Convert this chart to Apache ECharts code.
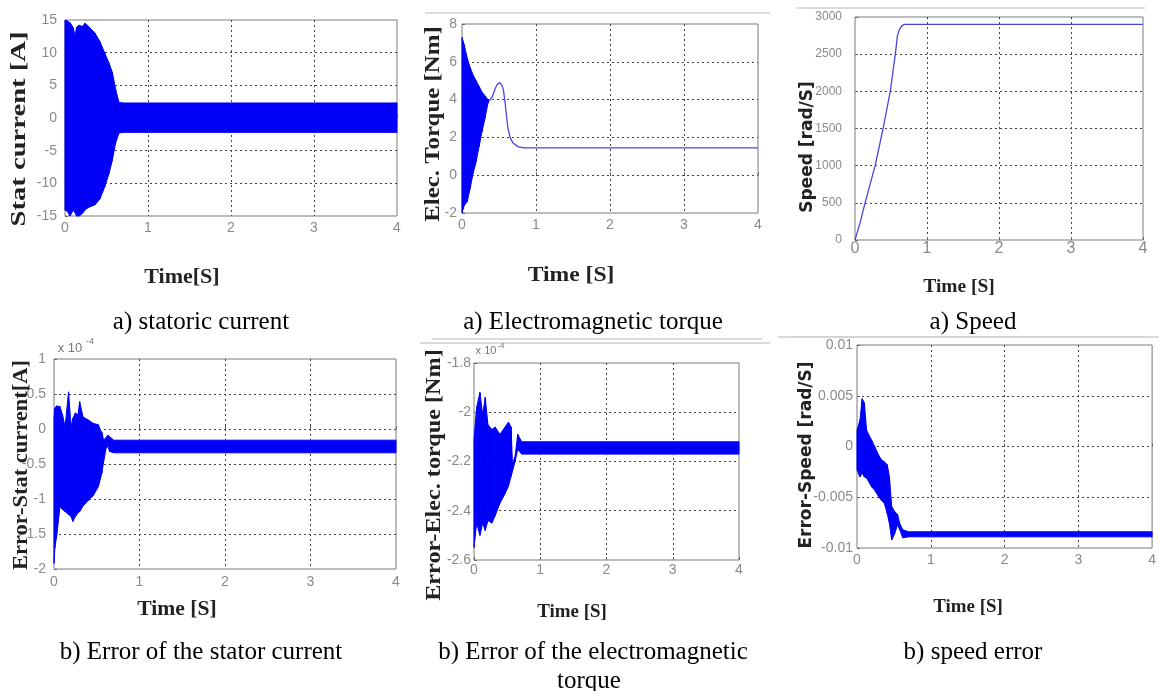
<!DOCTYPE html>
<html>
<head>
<meta charset="utf-8">
<title>Simulation results</title>
<script src="https://cdn.jsdelivr.net/npm/echarts@6/dist/echarts.min.js"></script>
<style>
html, body { margin: 0; padding: 0; background: #fff; }
#main { width: 1159px; height: 691px; }
</style>
</head>
<body>
<div id="main"></div>
<script>
// ---- data (time in s) ----

// a) statoric current [A] - envelope of the oscillation
var curT     = [0, 0.03, 0.06, 0.1, 0.12, 0.14, 0.17, 0.21, 0.24, 0.27, 0.3, 0.36, 0.42, 0.48, 0.53, 0.57, 0.61, 0.65, 0.7, 4];
var curUpper = [15, 14.8, 14.6, 13.8, 12.5, 13.9, 14.2, 14.0, 14.5, 14.2, 13.8, 13.0, 11.7, 9.9, 8.4, 7.0, 4.4, 2.4, 2.3, 2.3];
var curLower = [-14.1, -14.3, -15, -14.1, -14.5, -15, -15, -14.6, -14.1, -13.8, -13.6, -13.3, -12.4, -10.5, -8.5, -6.5, -3.8, -2.3, -2.2, -2.2];
var curTicks = [-15, -10, -5, 0, 5, 10, 15];

// a) electromagnetic torque [Nm] - oscillating start, then a single trace
var torBandT  = [0, 0.03, 0.07, 0.11, 0.15, 0.19, 0.23, 0.27, 0.31, 0.35, 0.37];
var torUpper  = [7.3, 6.9, 6.2, 5.7, 5.3, 5.0, 4.7, 4.4, 4.2, 4.0, 3.95];
var torLower  = [-2, -1.6, -1.4, -0.7, 0.1, 0.7, 1.5, 2.3, 3.0, 3.8, 3.95];
var torLineT  = [0.37, 0.41, 0.45, 0.48, 0.51, 0.54, 0.56, 0.58, 0.6, 0.62, 0.65, 0.69, 0.76, 0.85, 4];
var torLine   = [3.95, 4.15, 4.6, 4.82, 4.9, 4.75, 4.5, 3.9, 3.2, 2.5, 2.0, 1.7, 1.5, 1.45, 1.45];
var torTicks  = [-2, 0, 2, 4, 6, 8];

// a) speed [rad/S]
var spdT     = [0, 0.03, 0.07, 0.14, 0.28, 0.39, 0.49, 0.56, 0.59, 0.62, 0.65, 0.69, 0.74, 4];
var spd      = [0, 100, 230, 500, 1000, 1500, 2000, 2500, 2750, 2840, 2880, 2900, 2900, 2900];
var spdTicks = [0, 500, 1000, 1500, 2000, 2500, 3000];

// b) error of the stator current [A] (x 1e-4)
var eCurT     = [0, 0.01, 0.03, 0.07, 0.1, 0.13, 0.17, 0.2, 0.22, 0.25, 0.28, 0.3, 0.34, 0.4, 0.46, 0.52, 0.54, 0.56, 0.58, 0.61, 0.63, 0.65, 0.7, 4];
var eCurUpper = [0.15, 0.3, 0.33, 0.32, 0.2, 0.03, 0.53, 0.03, 0.15, 0.23, 0.2, 0.39, 0.17, 0.13, 0.08, 0.06, -0.01, -0.05, -0.16, -0.12, -0.09, -0.11, -0.16, -0.16];
var eCurLower = [-1.92, -1.7, -1.54, -1.11, -1.15, -1.18, -1.22, -1.25, -1.32, -1.25, -1.2, -1.18, -1.1, -1.02, -0.95, -0.82, -0.72, -0.63, -0.47, -0.27, -0.25, -0.32, -0.34, -0.34];
var eCurTicks = [-2, -1.5, -1, -0.5, 0, 0.5, 1];

// b) error of the electromagnetic torque [Nm] (x 1e-4)
var eTorT     = [0, 0.04, 0.09, 0.13, 0.17, 0.21, 0.27, 0.32, 0.39, 0.47, 0.52, 0.56, 0.58, 0.62, 0.66, 0.72, 4];
var eTorUpper = [-2.11, -1.98, -1.92, -2.01, -1.94, -2.05, -2.07, -2.06, -2.09, -2.06, -2.04, -2.06, -2.21, -2.18, -2.09, -2.12, -2.12];
var eTorLower = [-2.55, -2.45, -2.5, -2.45, -2.48, -2.44, -2.45, -2.42, -2.37, -2.33, -2.3, -2.26, -2.24, -2.2, -2.15, -2.17, -2.17];
var eTorTicks = [-2.6, -2.4, -2.2, -2, -1.8];

// b) speed error [rad/S]
var eSpdT     = [0, 0.04, 0.07, 0.1, 0.13, 0.2, 0.24, 0.29, 0.33, 0.37, 0.41, 0.44, 0.47, 0.51, 0.55, 0.58, 0.62, 0.7, 4];
var eSpdUpper = [0.0016, 0.0026, 0.0047, 0.0043, 0.0016, 0.0006, 0, -0.0008, -0.0013, -0.0015, -0.0018, -0.003, -0.0059, -0.0064, -0.0067, -0.0076, -0.0082, -0.0084, -0.0084];
var eSpdLower = [-0.0023, -0.003, -0.0026, -0.003, -0.0031, -0.004, -0.0043, -0.0049, -0.0053, -0.0056, -0.0066, -0.0076, -0.0092, -0.0086, -0.0077, -0.0082, -0.009, -0.0089, -0.0089];
var eSpdTicks = [-0.01, -0.005, 0, 0.005, 0.01];

var timeTicks = [0, 1, 2, 3, 4];

// ---- layout ----
var BLUE = '#0000f8';
var TRACE = '#4646e0';

var panels = [
    { left: 65,  top: 20,  width: 332, height: 196, xMargin: 5, yMargin: 8,  ticks: curTicks },
    { left: 462, top: 24,  width: 296, height: 189, xMargin: 5, yMargin: 5,  ticks: torTicks },
    { left: 855, top: 17,  width: 288, height: 223, xMargin: 1, yMargin: 13, ticks: spdTicks, xFont: 16, yFont: 12 },
    { left: 54,  top: 359, width: 342, height: 210, xMargin: 6, yMargin: 8,  ticks: eCurTicks },
    { left: 474, top: 363, width: 265, height: 197, xMargin: 3, yMargin: 3,  ticks: eTorTicks },
    { left: 857, top: 345, width: 298, height: 203, xMargin: 5, yMargin: 4,  ticks: eSpdTicks }
];

function step(ticks) {
    return +(ticks[1] - ticks[0]).toFixed(6);
}

function plain(v) {
    return String(+v.toFixed(6));
}

var grids = [], xAxes = [], yAxes = [];
panels.forEach(function (p, k) {
    grids.push({
        left: p.left, top: p.top, width: p.width, height: p.height,
        show: true, borderColor: '#7a7a7a', borderWidth: 1, backgroundColor: '#fff'
    });
    var grid = {
        show: true,
        showMinLine: false,
        showMaxLine: false,
        lineStyle: { color: '#444', type: [2, 3], width: 1 }
    };
    xAxes.push({
        type: 'value', gridIndex: k,
        min: timeTicks[0], max: timeTicks[timeTicks.length - 1], interval: step(timeTicks),
        axisLine: { show: false },
        axisTick: { show: true, inside: true, length: 3, lineStyle: { color: '#666' } },
        axisLabel: { color: '#8a8a8a', fontSize: p.xFont || 14, fontFamily: 'Liberation Sans', margin: p.xMargin, formatter: plain },
        splitLine: grid
    });
    yAxes.push({
        type: 'value', gridIndex: k,
        min: p.ticks[0], max: p.ticks[p.ticks.length - 1], interval: step(p.ticks),
        axisLine: { show: false },
        axisTick: { show: true, inside: true, length: 3, lineStyle: { color: '#666' } },
        axisLabel: { color: '#8a8a8a', fontSize: p.yFont || 14, fontFamily: 'Liberation Sans', margin: p.yMargin, formatter: plain },
        splitLine: grid
    });
});

// filled band between lower and upper envelope, one quad per segment
function band(k, t, up, lo) {
    var data = [];
    for (var i = 0; i < t.length - 1; i++) {
        data.push([t[i], lo[i], up[i], t[i + 1], lo[i + 1], up[i + 1]]);
    }
    return {
        type: 'custom', xAxisIndex: k, yAxisIndex: k, silent: true,
        encode: { x: [0, 3], y: [1, 2, 4, 5] },
        data: data,
        renderItem: function (params, api) {
            var a = api.coord([api.value(0), api.value(1)]);
            var b = api.coord([api.value(0), api.value(2)]);
            var c = api.coord([api.value(3), api.value(5)]);
            var d = api.coord([api.value(3), api.value(4)]);
            return {
                type: 'polygon',
                shape: { points: [a, b, c, d] },
                style: { fill: BLUE, stroke: BLUE, lineWidth: 1 }
            };
        }
    };
}

function trace(k, t, v) {
    return {
        type: 'line', xAxisIndex: k, yAxisIndex: k,
        data: t.map(function (x, i) { return [x, v[i]]; }),
        symbol: 'none', silent: true, lineStyle: { color: TRACE, width: 1.3 }
    };
}

var series = [
    band(0, curT, curUpper, curLower),
    band(1, torBandT, torUpper, torLower),
    trace(1, torLineT, torLine),
    trace(2, spdT, spd),
    band(3, eCurT, eCurUpper, eCurLower),
    band(4, eTorT, eTorUpper, eTorLower),
    band(5, eSpdT, eSpdUpper, eSpdLower)
];

// ---- texts ----
var SERIF = '"Liberation Serif", "Times New Roman", serif';
var SANS = '"DejaVu Sans", Verdana, sans-serif';

function label(x, y, text, font, color, rot, sx) {
    return {
        type: 'text', x: x, y: y, z: 100,
        rotation: rot || 0, scaleX: sx || 1,
        style: {
            text: text, font: font, fill: color,
            align: 'center', verticalAlign: 'middle',
            textAlign: 'center', textVerticalAlign: 'middle'
        }
    };
}

function rule(x1, x2, y) {
    return { type: 'line', z: 1, shape: { x1: x1, y1: y, x2: x2, y2: y }, style: { stroke: '#cfcfcf', lineWidth: 1.5 } };
}

var UP = Math.PI / 2;
var DARK = '#222';

var graphic = [
    // faint borders left over from the pasted figures
    rule(425, 770, 13), rule(797, 1145, 8), rule(432, 762, 339),
    rule(790, 1145, 337), rule(420, 770, 343), rule(778, 1159, 337),

    // x axis titles
    label(182, 278, 'Time[S]', 'bold 20px ' + SERIF, DARK, 0, 1.1),
    label(571, 276, 'Time [S]', 'bold 20px ' + SERIF, DARK, 0, 1.18),
    label(959, 287, 'Time [S]', 'bold 18px ' + SERIF, DARK, 0, 1.08),
    label(177, 610, 'Time [S]', 'bold 20px ' + SERIF, DARK, 0, 1.08),
    label(572, 612, 'Time [S]', 'bold 18px ' + SERIF, DARK, 0, 1.05),
    label(968, 607, 'Time [S]', 'bold 18px ' + SERIF, DARK, 0, 1.05),

    // y axis titles
    label(19, 129, 'Stat current [A]', 'bold 22px ' + SERIF, DARK, UP, 1.3),
    label(433, 124, 'Elec. Torque [Nm]', 'bold 22px ' + SERIF, DARK, UP, 1.13),
    label(808, 147, 'Speed [rad/S]', 'bold 17px ' + SANS, DARK, UP, 1),
    label(22, 465, 'Error-Stat current[A]', 'bold 21px ' + SERIF, DARK, UP, 1.07),
    label(434, 475, 'Error-Elec. torque [Nm]', 'bold 22px ' + SERIF, DARK, UP, 1.1),
    label(807, 455, 'Error-Speed [rad/S]', 'bold 17px ' + SANS, DARK, UP, 1),

    // exponent markers
    label(70, 348, 'x 10', '13px Liberation Sans', '#777', 0, 1),
    label(90, 342, '-4', '9px Liberation Sans', '#777', 0, 1),
    label(486, 351, 'x 10', '11px Liberation Sans', '#777', 0, 1),
    label(501, 346, '-4', '8px Liberation Sans', '#777', 0, 1),

    // captions
    label(201, 322, 'a) statoric current', '25px ' + SERIF, '#000'),
    label(593, 322, 'a) Electromagnetic torque', '25px ' + SERIF, '#000'),
    label(973, 322, 'a) Speed', '25px ' + SERIF, '#000'),
    label(201, 652, 'b) Error of the stator current', '25px ' + SERIF, '#000'),
    label(593, 652, 'b) Error of the electromagnetic', '25px ' + SERIF, '#000'),
    label(589, 681, 'torque', '25px ' + SERIF, '#000'),
    label(973, 652, 'b) speed error', '25px ' + SERIF, '#000')
];

var myChart = echarts.init(document.getElementById('main'));
myChart.setOption({
    animation: false,
    backgroundColor: '#fff',
    grid: grids,
    xAxis: xAxes,
    yAxis: yAxes,
    series: series,
    graphic: graphic
});
</script>
</body>
</html>
